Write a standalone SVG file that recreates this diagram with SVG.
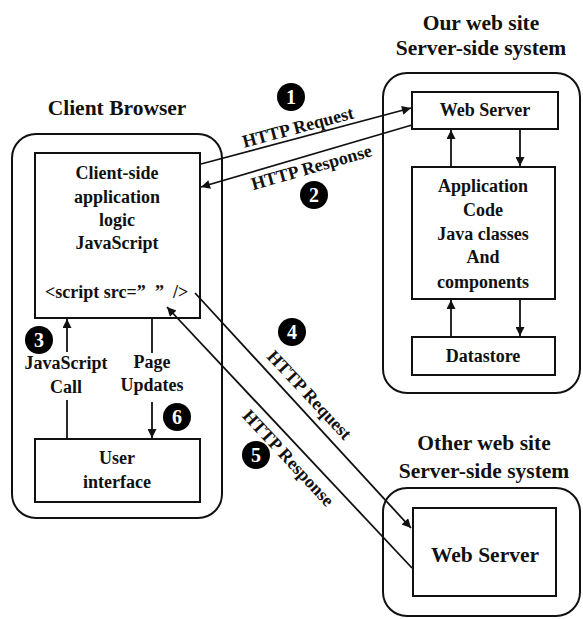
<svg xmlns="http://www.w3.org/2000/svg" width="583" height="619" viewBox="0 0 583 619">
<defs>
<style>
.t{font-family:"Liberation Serif","Times New Roman",serif;font-weight:bold;fill:#111;text-anchor:middle}
.h{font-size:21.5px}
.b{font-size:18px}
.box{fill:#fff;stroke:#111;stroke-width:2}
.outer{fill:none;stroke:#111;stroke-width:2}
.ln{fill:none;stroke:#111;stroke-width:1.8}
.badge circle{fill:#000}
.badge text{font-family:"Liberation Serif","Times New Roman",serif;font-weight:bold;font-size:20px;fill:#fff;text-anchor:middle}
</style>
<marker id="ah" viewBox="0 0 10 10" refX="10" refY="5" markerWidth="11" markerHeight="9" markerUnits="userSpaceOnUse" orient="auto">
<path d="M0,0 L10,5 L0,10 z" fill="#111"/>
</marker>
</defs>
<rect width="583" height="619" fill="#fff"/>

<g id="client-browser">
<text class="t h" x="117" y="115">Client Browser</text>
<rect class="outer" x="12" y="134" width="210" height="384" rx="24"/>
</g>
<g id="client-logic">
<rect class="box" x="35" y="153" width="165" height="165"/>
<text class="t b" x="117" y="179">Client-side</text>
<text class="t b" x="117" y="203">application</text>
<text class="t b" x="117" y="226">logic</text>
<text class="t b" x="117" y="249">JavaScript</text>
<text class="t b" x="45" y="298" style="text-anchor:start">&lt;script src=”<tspan x="155">”</tspan><tspan x="173">/&gt;</tspan></text>
</g>
<g id="user-interface">
<rect class="box" x="35" y="439" width="165" height="63"/>
<text class="t b" x="117" y="464">User</text>
<text class="t b" x="117" y="488">interface</text>
</g>

<g id="our-site">
<text class="t h" x="481" y="30">Our web site</text>
<text class="t h" x="481" y="55">Server-side system</text>
<rect class="outer" x="383" y="73" width="197" height="320" rx="24"/>
</g>
<g id="web-server">
<rect class="box" x="412" y="92" width="146" height="37"/>
<text class="t b" x="485" y="116">Web Server</text>
</g>
<g id="app-code">
<rect class="box" x="412" y="167" width="143" height="132"/>
<text class="t b" x="483" y="192">Application</text>
<text class="t b" x="483" y="216">Code</text>
<text class="t b" x="483" y="240">Java classes</text>
<text class="t b" x="483" y="263">And</text>
<text class="t b" x="483" y="288">components</text>
</g>
<g id="datastore">
<rect class="box" x="412" y="337" width="143" height="38"/>
<text class="t b" x="483" y="362">Datastore</text>
</g>

<g id="other-site">
<text class="t h" x="484" y="450">Other web site</text>
<text class="t h" x="484" y="478">Server-side system</text>
<rect class="outer" x="383" y="488" width="197" height="128" rx="24"/>
</g>
<g id="other-web-server">
<rect class="box" x="413" y="508" width="143" height="88"/>
<text class="t" x="485" y="562" font-size="21.5">Web Server</text>
</g>

<g id="connectors">
<line class="ln" x1="201" y1="164" x2="411" y2="108" marker-end="url(#ah)"/>
<line class="ln" x1="412" y1="125" x2="201" y2="187" marker-end="url(#ah)"/>
<line class="ln" x1="451" y1="167" x2="451" y2="130" marker-end="url(#ah)"/>
<line class="ln" x1="520" y1="129" x2="520" y2="166" marker-end="url(#ah)"/>
<line class="ln" x1="451" y1="337" x2="451" y2="300" marker-end="url(#ah)"/>
<line class="ln" x1="520" y1="299" x2="520" y2="336" marker-end="url(#ah)"/>
<line class="ln" x1="67" y1="439" x2="67" y2="400"/>
<line class="ln" x1="67" y1="352" x2="67" y2="319" marker-end="url(#ah)"/>
<line class="ln" x1="152" y1="318" x2="152" y2="353"/>
<line class="ln" x1="152" y1="402" x2="152" y2="438" marker-end="url(#ah)"/>
<line class="ln" x1="195" y1="293" x2="411" y2="528" marker-end="url(#ah)"/>
<line class="ln" x1="412" y1="568" x2="167" y2="307" marker-end="url(#ah)"/>
<text class="t b" transform="translate(299.5,133) rotate(-15)">HTTP Request</text>
<text class="t b" transform="translate(313,173) rotate(-16)">HTTP Response</text>
<text class="t b" transform="translate(305,399) rotate(47)">HTTP Request</text>
<text class="t b" transform="translate(284,462) rotate(47)">HTTP Response</text>
<text class="t b" x="66" y="369">JavaScript</text>
<text class="t b" x="66" y="393">Call</text>
<text class="t b" x="152" y="368">Page</text>
<text class="t b" x="152" y="391">Updates</text>
</g>

<g id="badges">
<g class="badge"><circle cx="291" cy="97" r="14"/><text x="291" y="104">1</text></g>
<g class="badge"><circle cx="314" cy="195" r="14"/><text x="314" y="202">2</text></g>
<g class="badge"><circle cx="39" cy="340" r="14"/><text x="39" y="347">3</text></g>
<g class="badge"><circle cx="292" cy="332" r="14"/><text x="292" y="339">4</text></g>
<g class="badge"><circle cx="256" cy="455" r="14"/><text x="256" y="462">5</text></g>
<g class="badge"><circle cx="177" cy="417" r="14"/><text x="177" y="424">6</text></g>
</g>
</svg>
